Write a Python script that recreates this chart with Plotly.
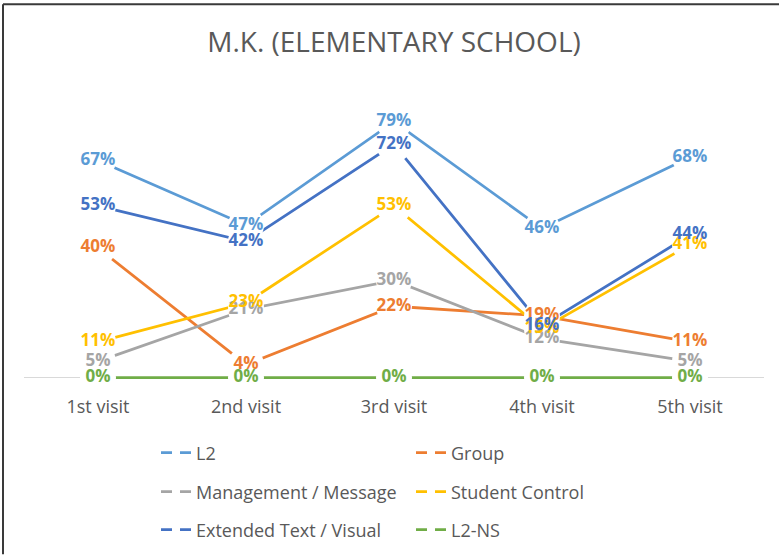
import plotly.graph_objects as go

categories = ["1st visit", "2nd visit", "3rd visit", "4th visit", "5th visit"]
series_names = ["L2", "Group", "Management / Message", "Student Control",
                "Extended Text / Visual", "L2-NS"]
l2 = [67, 47, 79, 46, 68]
group = [40, 4, 22, 19, 11]
management = [5, 21, 30, 12, 5]
student_control = [11, 23, 53, 15, 41]
extended = [53, 42, 72, 16, 44]
l2_ns = [0, 0, 0, 0, 0]
series_values = [l2, group, management, student_control, extended, l2_ns]
colors = ["#5B9BD5", "#ED7D31", "#A5A5A5", "#FFC000", "#4472C4", "#70AD47"]

W, H = 779, 555
ML, MR, MT, MB = 24, 15, 86, 170.5
FONT = "Open Sans"

fig = go.Figure()

# lines
for name, vals, col in zip(series_names, series_values, colors):
    fig.add_trace(go.Scatter(x=categories, y=vals, mode="lines", name=name,
                             line=dict(color=col, width=2.75), showlegend=False,
                             hoverinfo="skip"))

# white gaps around every data point
all_x, all_y = [], []
for vals in series_values:
    all_x += categories
    all_y += vals
fig.add_trace(go.Scatter(x=all_x, y=all_y, mode="markers", showlegend=False,
                         marker=dict(size=36, color="white", line=dict(width=0)),
                         hoverinfo="skip", cliponaxis=False))

# data labels
for name, vals, col in zip(series_names, series_values, colors):
    fig.add_trace(go.Scatter(x=categories, y=vals, mode="text", showlegend=False,
                             text=[f"{v}%" for v in vals], textposition="middle center",
                             textfont=dict(family=FONT, size=17, color=col, weight="bold"),
                             hoverinfo="skip", cliponaxis=False))

# legend entries (3 rows x 2 columns)
legend_ids = ["legend", "legend", "legend2", "legend2", "legend3", "legend3"]
for name, col, lid in zip(series_names, colors, legend_ids):
    fig.add_trace(go.Scatter(x=[None], y=[None], mode="lines", name=name,
                             line=dict(color=col, width=2.75, dash="11px,8px"),
                             legend=lid, showlegend=True))

row_y = [453, 492, 530]
legend_common = dict(orientation="h", xref="container", yref="container",
                     x=156 / W, xanchor="left", yanchor="middle",
                     entrywidth=210, entrywidthmode="pixels",
                     font=dict(family=FONT, size=18, color="#595959"),
                     bgcolor="rgba(0,0,0,0)", itemclick=False, itemdoubleclick=False)

fig.update_layout(
    width=W, height=H,
    margin=dict(l=ML, r=MR, t=MT, b=MB),
    paper_bgcolor="white", plot_bgcolor="white",
    title=dict(text="M.K. (ELEMENTARY SCHOOL)", x=0.5, xref="paper", xanchor="center",
               y=1 - 42 / H, yref="container", yanchor="middle",
               font=dict(family=FONT, size=28, color="#595959")),
    xaxis=dict(type="category", range=[-0.5, 4.5], showgrid=False, zeroline=False,
               showline=False, ticks="",
               tickfont=dict(family=FONT, size=18, color="#595959"), ticklabelstandoff=10),
    yaxis=dict(range=[-2, 90], showticklabels=False, ticks="", showgrid=False,
               zeroline=True, zerolinecolor="#D9D9D9", zerolinewidth=1, showline=False),
    legend=dict(y=1 - row_y[0] / H, **legend_common),
    legend2=dict(y=1 - row_y[1] / H, **legend_common),
    legend3=dict(y=1 - row_y[2] / H, **legend_common),
    shapes=[
        dict(type="line", xref="paper", yref="paper",
             x0=(3 - ML) / (W - ML - MR), x1=(W - ML) / (W - ML - MR),
             y0=(H - MB - 4) / (H - MT - MB), y1=(H - MB - 4) / (H - MT - MB),
             line=dict(color="#3A3A3A", width=2)),
        dict(type="line", xref="paper", yref="paper",
             x0=(3 - ML) / (W - ML - MR), x1=(3 - ML) / (W - ML - MR),
             y0=(H - MB - 4) / (H - MT - MB), y1=(H - MB - H) / (H - MT - MB),
             line=dict(color="#3A3A3A", width=2)),
    ],
    showlegend=True,
)

fig.write_html("out.html", config={"displayModeBar": False},
               post_script="document.body.style.margin='0px';document.body.style.overflow='hidden';")
